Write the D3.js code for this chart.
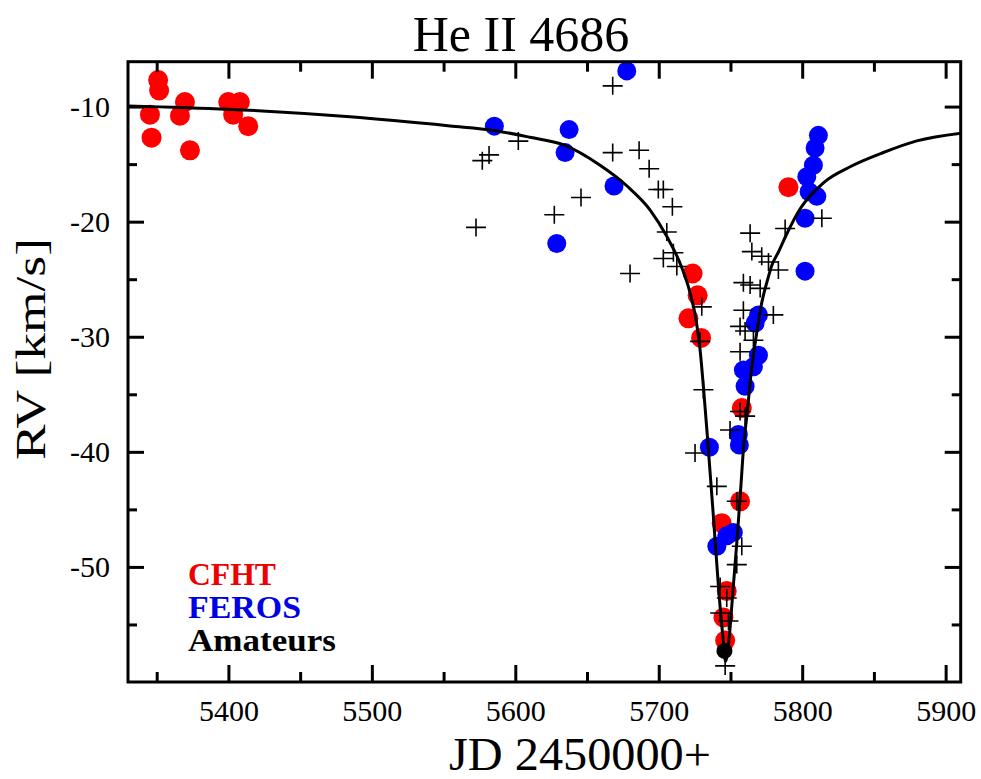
<!DOCTYPE html>
<html>
<head>
<meta charset="utf-8">
<script src="https://cdn.jsdelivr.net/npm/d3@7"></script>
<style>
  body { margin: 0; background: #fff; }
  svg { display: block; }
  text { font-family: "Liberation Serif", "Times New Roman", serif; }
</style>
</head>
<body>
<div id="chart"></div>
<script>
// [JD - 2450000, RV km/s]
const cfht = [
  [5351.0, -7.7], [5351.7, -8.6], [5345.3, -10.7], [5346.4, -12.7], [5369.7, -9.6],
  [5366.2, -10.8], [5373.2, -13.8], [5399.9, -9.6], [5408.0, -9.6], [5403.3, -10.7],
  [5413.8, -11.7], [5723.6, -24.5], [5727.1, -26.4], [5720.7, -28.4], [5729.5, -30.1],
  [5757.9, -36.2], [5756.7, -44.3], [5743.9, -46.2], [5747.4, -52.1], [5745.1, -54.4],
  [5746.3, -56.4], [5790.4, -17.0]
];

const feros = [
  [5677.7, -6.9], [5585.4, -11.7], [5637.5, -12.0], [5634.7, -14.0], [5668.8, -16.9],
  [5628.9, -21.9], [5811.3, -12.5], [5809.0, -13.6], [5807.8, -15.1], [5803.2, -16.1],
  [5804.8, -17.4], [5810.2, -17.8], [5802.0, -19.7], [5802.0, -24.3], [5769.5, -28.1],
  [5767.2, -28.8], [5769.5, -31.6], [5759.0, -32.9], [5766.0, -32.6], [5760.2, -34.3],
  [5755.5, -38.5], [5756.2, -39.4], [5735.3, -39.6], [5752.0, -47.0], [5747.4, -47.3],
  [5740.5, -48.2]
];

const amateurs = [
  [5667.9, -8.2], [5602.1, -13.0], [5581.7, -14.2], [5577.0, -14.7], [5572.6, -20.5],
  [5627.2, -19.4], [5645.8, -17.9], [5667.9, -14.0], [5686.3, -13.8], [5693.3, -15.4],
  [5699.7, -17.2], [5703.2, -17.2], [5709.5, -18.7], [5705.6, -20.9], [5703.2, -23.2],
  [5710.2, -22.7], [5712.6, -23.9], [5680.0, -24.5], [5730.0, -27.4], [5728.8, -30.4],
  [5731.1, -34.6], [5725.3, -40.1], [5740.5, -43.0], [5742.8, -51.7], [5747.4, -52.7],
  [5742.8, -54.0], [5748.6, -54.7], [5746.3, -58.6], [5763.7, -21.0], [5788.1, -20.6],
  [5813.7, -19.7], [5764.9, -22.6], [5771.8, -23.0], [5776.5, -23.5], [5783.4, -24.2],
  [5759.0, -25.3], [5763.7, -25.5], [5770.7, -25.8], [5759.0, -27.7], [5779.9, -28.1],
  [5756.7, -29.1], [5760.2, -29.5], [5766.0, -30.3], [5756.7, -31.3], [5756.7, -36.5],
  [5760.2, -36.9], [5749.7, -38.1], [5754.4, -44.3], [5757.9, -48.2], [5754.4, -49.8]
];

const blackDot = [[5745.8, -57.3]];

// fitted orbit curve
const model = [
  [5329.9, -9.94], [5400.0, -10.23], [5484.7, -10.89], [5554.5, -11.68], [5585.2, -12.07],
  [5610.2, -12.67], [5634.7, -13.37], [5659.1, -15.10], [5677.7, -16.88], [5693.9, -18.97],
  [5705.6, -21.28], [5716.1, -24.0], [5721.8, -26.17], [5726.0, -28.52], [5728.8, -31.12],
  [5731.3, -34.59], [5733.7, -38.32], [5737.9, -45.27], [5741.6, -51.67], [5744.9, -56.29],
  [5746.6, -58.2], [5749.0, -56.29], [5751.8, -51.95], [5754.6, -47.61], [5757.1, -43.27],
  [5759.2, -39.51], [5761.9, -36.33], [5764.4, -33.14], [5767.9, -29.99], [5771.8, -27.04],
  [5775.3, -25.3], [5779.0, -23.74], [5783.2, -22.7], [5789.3, -21.05], [5798.6, -18.88],
  [5814.8, -16.62], [5833.4, -15.23], [5856.6, -13.99], [5879.9, -12.98], [5910.6, -12.31]
];

const xMajor = [5400, 5500, 5600, 5700, 5800, 5900];
const xMinor = [5350, 5450, 5550, 5650, 5750, 5850];
const yMajor = [-10, -20, -30, -40, -50];
const yMinor = [-15, -25, -35, -45, -55];
const legendItems = [
  { label: "CFHT", color: "#ee0000", len: 88 },
  { label: "FEROS", color: "#0000e6", len: 113 },
  { label: "Amateurs", color: "#000000", len: 148 }
];

const width = 981, height = 779;
const box = { left: 128, right: 960.7, top: 61.7, bottom: 682 };

const svg = d3.select("#chart").append("svg")
  .attr("width", width)
  .attr("height", height);

svg.append("rect").attr("width", width).attr("height", height).attr("fill", "#fff");

const x = d3.scaleLinear().domain([5330, 5910.5]).range([box.left, box.right]);
const y = d3.scaleLinear().domain([-60, -6.1]).range([box.bottom, box.top]);

svg.append("defs").append("clipPath").attr("id", "plot")
  .append("rect")
  .attr("x", box.left).attr("y", box.top)
  .attr("width", box.right - box.left).attr("height", box.bottom - box.top);

const plot = svg.append("g").attr("clip-path", "url(#plot)");

plot.selectAll(".cfht").data(cfht).join("circle")
  .attr("class", "cfht")
  .attr("cx", d => x(d[0])).attr("cy", d => y(d[1]))
  .attr("r", 10).attr("fill", "#ff0000");

plot.selectAll(".feros").data(feros).join("circle")
  .attr("class", "feros")
  .attr("cx", d => x(d[0])).attr("cy", d => y(d[1]))
  .attr("r", 9.5).attr("fill", "#0000ff");

plot.selectAll(".dot").data(blackDot).join("circle")
  .attr("class", "dot")
  .attr("cx", d => x(d[0])).attr("cy", d => y(d[1]))
  .attr("r", 8).attr("fill", "#000");

const line = d3.line()
  .x(d => x(d[0]))
  .y(d => y(d[1]))
  .curve(d3.curveMonotoneX);

plot.append("path")
  .datum(model)
  .attr("fill", "none")
  .attr("stroke", "#000")
  .attr("stroke-width", 3)
  .attr("d", line);

plot.selectAll(".amat").data(amateurs).join("path")
  .attr("class", "amat")
  .attr("transform", d => `translate(${x(d[0])},${y(d[1])})`)
  .attr("d", "M-10,0H10M0,-9V9")
  .attr("stroke", "#000")
  .attr("stroke-width", 1.6)
  .attr("fill", "none");

// axes: ticks point inward on all four sides
const plain = d => String(d);

function styleAxis(g) {
  g.select(".domain").remove();
  g.attr("font-family", '"Liberation Serif", "Times New Roman", serif').attr("font-size", 30);
  g.selectAll(".tick line").attr("stroke", "#000").attr("stroke-width", 3);
  g.selectAll(".tick text").attr("fill", "#000");
}

svg.append("g")
  .attr("transform", `translate(0,${box.bottom})`)
  .call(d3.axisBottom(x).tickValues(xMajor).tickSize(-17).tickPadding(18).tickFormat(plain))
  .call(styleAxis);
svg.append("g")
  .attr("transform", `translate(0,${box.bottom})`)
  .call(d3.axisBottom(x).tickValues(xMinor).tickSize(-10).tickFormat(""))
  .call(styleAxis);
svg.append("g")
  .attr("transform", `translate(0,${box.top})`)
  .call(d3.axisTop(x).tickValues(xMajor).tickSize(-17).tickFormat(""))
  .call(styleAxis);
svg.append("g")
  .attr("transform", `translate(0,${box.top})`)
  .call(d3.axisTop(x).tickValues(xMinor).tickSize(-10).tickFormat(""))
  .call(styleAxis);

svg.append("g")
  .attr("transform", `translate(${box.left},0)`)
  .call(d3.axisLeft(y).tickValues(yMajor).tickSize(-16).tickPadding(18).tickFormat(plain))
  .call(styleAxis);
svg.append("g")
  .attr("transform", `translate(${box.left},0)`)
  .call(d3.axisLeft(y).tickValues(yMinor).tickSize(-9).tickFormat(""))
  .call(styleAxis);
svg.append("g")
  .attr("transform", `translate(${box.right},0)`)
  .call(d3.axisRight(y).tickValues(yMajor).tickSize(-16).tickFormat(""))
  .call(styleAxis);
svg.append("g")
  .attr("transform", `translate(${box.right},0)`)
  .call(d3.axisRight(y).tickValues(yMinor).tickSize(-9).tickFormat(""))
  .call(styleAxis);

svg.append("rect")
  .attr("x", box.left).attr("y", box.top)
  .attr("width", box.right - box.left).attr("height", box.bottom - box.top)
  .attr("fill", "none")
  .attr("stroke", "#000")
  .attr("stroke-width", 3);

// labels
svg.append("text")
  .attr("x", 521).attr("y", 51)
  .attr("text-anchor", "middle")
  .style("font-size", "50px")
  .text("He II 4686");

svg.append("text")
  .attr("x", 580).attr("y", 769.5)
  .attr("text-anchor", "middle")
  .attr("textLength", 262)
  .attr("lengthAdjust", "spacingAndGlyphs")
  .style("font-size", "46px")
  .text("JD 2450000+");

svg.append("text")
  .attr("transform", "translate(45,349) rotate(-90)")
  .attr("text-anchor", "middle")
  .attr("textLength", 222)
  .attr("lengthAdjust", "spacingAndGlyphs")
  .style("font-size", "42px")
  .text("RV [km/s]");

svg.selectAll(".legend").data(legendItems).join("text")
  .attr("class", "legend")
  .attr("x", 188)
  .attr("y", (d, i) => 585 + i * 33)
  .attr("fill", d => d.color)
  .attr("textLength", d => d.len)
  .attr("lengthAdjust", "spacingAndGlyphs")
  .style("font-size", "31px")
  .style("font-weight", "bold")
  .text(d => d.label);
</script>
</body>
</html>
